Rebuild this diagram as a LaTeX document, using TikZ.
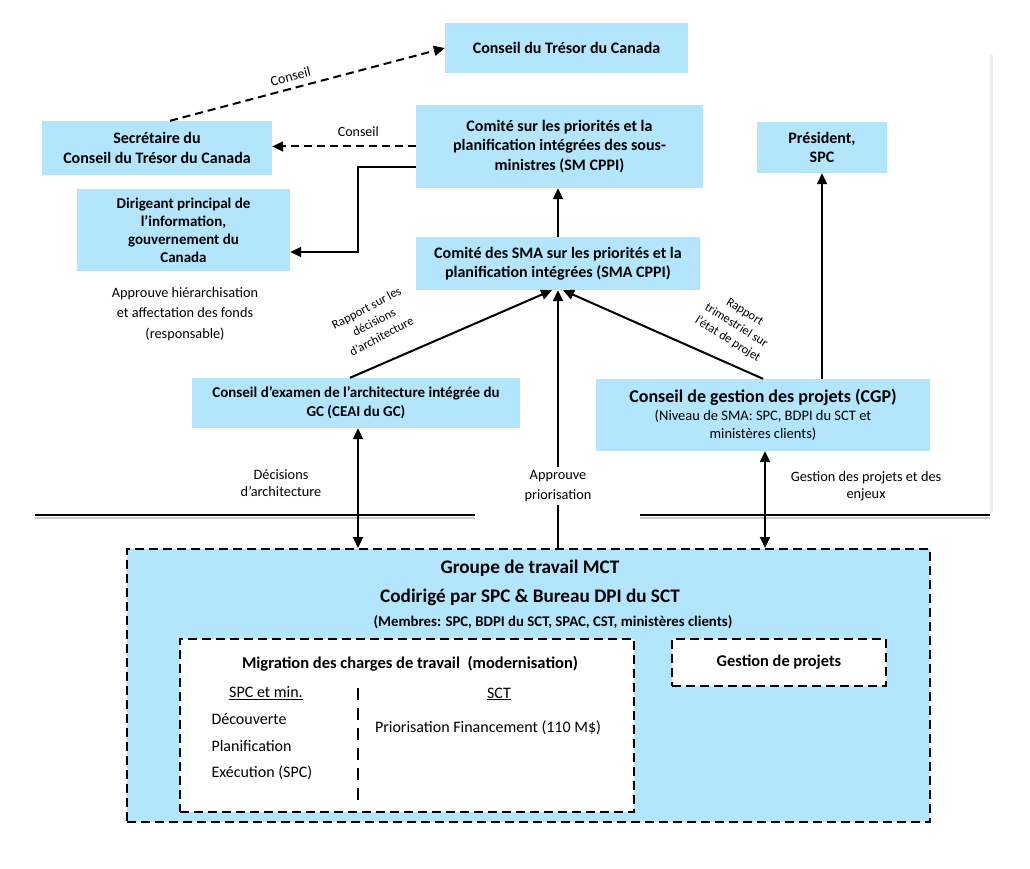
\documentclass[tikz,border=0pt]{standalone}
\usepackage{fontspec}
\setmainfont{Carlito}
\usetikzlibrary{arrows.meta}
\definecolor{boxblue}{RGB}{179,229,252}

\tikzset{
  box/.style={fill=boxblue, align=center, inner sep=0pt, font=\bfseries\fontsize{16}{19.5}\selectfont},
  dbox/.style={draw, line width=2pt, dash pattern=on 9pt off 5pt},
  link/.style={line width=2pt, -{Triangle[length=11pt,width=10pt]}},
  dlink/.style={link, dash pattern=on 8pt off 5pt},
  blink/.style={line width=2pt, {Triangle[length=11pt,width=10pt]}-{Triangle[length=11pt,width=10pt]}},
  lbl/.style={align=center, font=\fontsize{14.3}{20.5}\selectfont},
  slbl/.style={align=center, font=\fontsize{12.5}{16}\selectfont},
  txt/.style={font=\fontsize{16}{18}\selectfont},
}

\begin{document}
\begin{tikzpicture}[x=1pt,y=-1pt]
\useasboundingbox (0,0) rectangle (1030,869);

% upper boxes
\node[box, minimum width=243pt, minimum height=50pt] (sct) at (566.5,48) {Conseil du Trésor du Canada};
\node[box, minimum width=230pt, minimum height=54pt] (sec) at (157,148) {Secrétaire du\\Conseil du Trésor du Canada};
\node[box, minimum width=213pt, minimum height=82pt, font=\bfseries\fontsize{15}{18}\selectfont] (dpi) at (183.5,230) {Dirigeant principal de\\l’information,\\gouvernement du\\Canada};
\node[box, minimum width=287pt, minimum height=83pt] (smcppi) at (559.5,146.5) {Comité sur les priorités et la\\planification intégrées des sous-\\ministres (SM CPPI)};
\node[box, minimum width=284pt, minimum height=53pt] (smacppi) at (558,263.5) {Comité des SMA sur les priorités et la\\planification intégrées (SMA CPPI)};
\node[box, minimum width=130pt, minimum height=51pt] (pres) at (822,147.5) {Président,\\SPC};
\node[box, minimum width=328pt, minimum height=50pt, font=\bfseries\fontsize{15}{19}\selectfont] (ceai) at (356,403) {Conseil d’examen de l’architecture intégrée du\\GC (CEAI du GC)};
\node[box, minimum width=334pt, minimum height=72pt] (cgp) at (763,415) {{\fontsize{18}{21}\selectfont Conseil de gestion des projets (CGP)}\\[-2pt]
  {\mdseries\fontsize{14.5}{18}\selectfont (Niveau de SMA: SPC, BDPI du SCT et}\\[-1pt]{\mdseries\fontsize{14.5}{18}\selectfont ministères clients)}};

\node[lbl] (hier) at (185,314) {Approuve hiérarchisation\\et affectation des fonds\\(responsable)};

% separators
\draw[gray!40, line width=2pt] (35,518) -- (475,518);
\draw[gray!40, line width=2pt] (640,518) -- (990,518);
\draw[line width=2.5pt] (35,515) -- (475,515);
\draw[line width=2.5pt] (640,515) -- (990,515);
\draw[gray!15, line width=3pt] (991,55) -- (991,512);

% working group
\node[dbox, fill=boxblue, minimum width=803pt, minimum height=273pt] (gt) at (528.5,685.5) {};
\node[dbox, fill=white, minimum width=454pt, minimum height=173pt] (mig) at (407,725.5) {};
\node[dbox, fill=white, minimum width=214pt, minimum height=47pt, font=\bfseries\fontsize{16.4}{19}\selectfont] (gp) at (779,662.5) {Gestion de projets};
\node[font=\bfseries\fontsize{19.2}{22}\selectfont] (gttitle) at (530,568) {Groupe de travail MCT};
\node[font=\bfseries\fontsize{19.2}{22}\selectfont] (gtsub) at (530,597) {Codirigé par SPC \& Bureau DPI du SCT};
\node[font=\bfseries\fontsize{14.8}{17}\selectfont] (gtmem) at (553,622) {(Membres: SPC, BDPI du SCT, SPAC, CST, ministères clients)};
\node[font=\bfseries\fontsize{16.5}{19}\selectfont] (migtitle) at (410,664) {Migration des charges de travail~~(modernisation)};
\node[txt] (spcmin) at (266,693) {\underline{SPC et min.}};
\node[txt] (sctcol) at (499,694) {\underline{SCT}};
\node[txt, anchor=west] (decouv) at (208,719) {Découverte};
\node[txt, anchor=west] (planif) at (208,746) {Planification};
\node[txt, anchor=west] (exec) at (208,773) {Exécution (SPC)};
\node[txt] (prio) at (488,728) {Priorisation Financement (110 M\$)};
\draw[line width=2pt, dash pattern=on 12pt off 8pt] (358,688) -- (358,802);

% connectors
\draw[dlink] ([xshift=13pt]sec.north) -- (sct.west) node[pos=.45, above=3pt, sloped, font=\fontsize{14}{16}\selectfont] {Conseil};
\draw[dlink] (smcppi.west) -- (sec.east |- smcppi.west) node[pos=.4, above=6pt, font=\fontsize{14}{16}\selectfont] {Conseil};
\draw[link] ([yshift=-21pt]smcppi.west) -- ++(-58,0) |- ([yshift=-22pt]dpi.east);
\draw[link] (smacppi.north) -- (smacppi.north |- smcppi.south);
\draw[link] (pres.south |- cgp.north) -- (pres.south);
\draw[link] ([xshift=-6pt]ceai.north) -- ([xshift=-6pt]smacppi.south);
\draw[link] (cgp.north) -- ([xshift=5pt]smacppi.south);
\draw[link] (smacppi.south |- gt.north) -- (smacppi.south)
  node[pos=.24, fill=white, lbl] (appr) {Approuve\\priorisation};
\draw[blink] ([xshift=2pt]ceai.south) -- ([xshift=2pt]ceai.south |- gt.north);
\draw[blink] ([xshift=2pt]cgp.south) -- ([xshift=2pt]cgp.south |- gt.north);

% connector labels
\node[slbl, rotate=28] (rapdec) at (374,322) {Rapport sur les\\décisions\\d’architecture};
\node[slbl, rotate=-32] (raptri) at (736,326) {Rapport\\trimestriel sur\\l’état de projet};
\node[lbl, font=\fontsize{14.3}{17}\selectfont] (decarch) at (281,483) {Décisions\\d’architecture};
\node[lbl, font=\fontsize{14.3}{17}\selectfont] (gestenj) at (866,486) {Gestion des projets et des\\enjeux};
\end{tikzpicture}
\end{document}
